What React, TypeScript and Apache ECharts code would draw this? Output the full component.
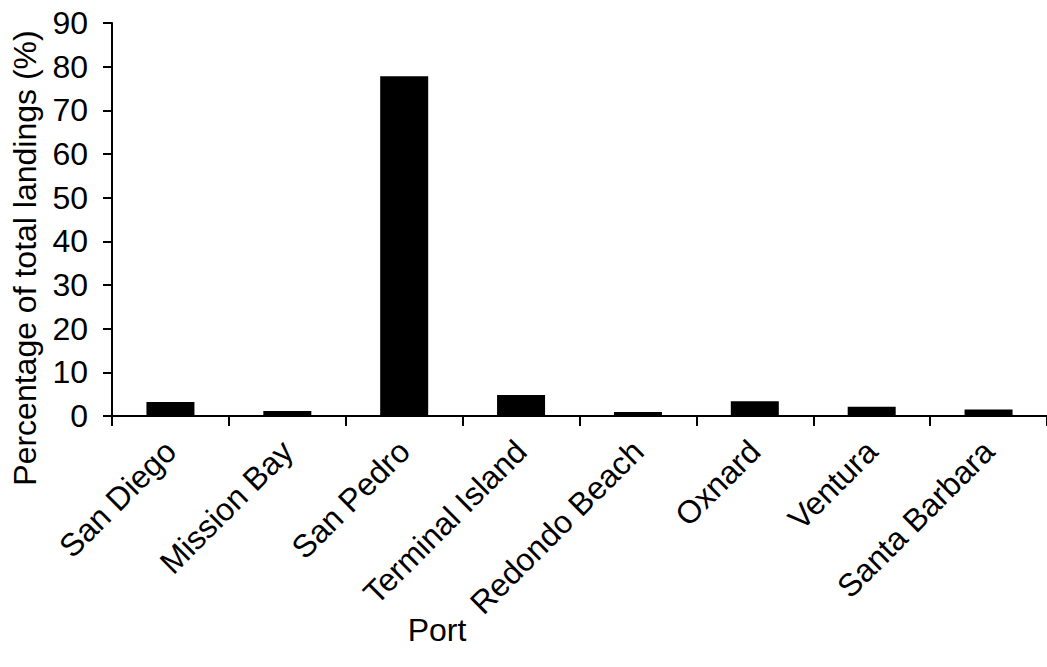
import React, { useEffect, useRef } from "react";
import * as echarts from "echarts";

const ports = [
  "San Diego",
  "Mission Bay",
  "San Pedro",
  "Terminal Island",
  "Redondo Beach",
  "Oxnard",
  "Ventura",
  "Santa Barbara",
];
const percentages = [3.2, 1.15, 77.8, 4.8, 0.9, 3.4, 2.1, 1.5];
const yTitle = "Percentage of total landings (%)";
const xTitle = "Port";

const FONT = "'Liberation Sans', Arial, sans-serif";

export default function App() {
  const ref = useRef<HTMLDivElement>(null);
  useEffect(() => {
    if (!ref.current) return;
    const chart = echarts.init(ref.current, undefined, { renderer: "svg" });
    chart.setOption({
      animation: false,
      backgroundColor: "#ffffff",
      textStyle: { fontFamily: FONT },
      grid: { left: 112, top: 23, width: 942, height: 393, containLabel: false },
      xAxis: {
        type: "category",
        data: ports,
        boundaryGap: true,
        axisLine: { show: true, lineStyle: { color: "#000", width: 2 } },
        axisTick: { show: true, length: 10, lineStyle: { color: "#000", width: 2 }, alignWithLabel: false },
        axisLabel: {
          rotate: 45,
          interval: 0,
          margin: 30,
          color: "#000",
          fontSize: 32,
          fontFamily: FONT,
        },
        splitLine: { show: false },
      },
      yAxis: {
        type: "value",
        min: 0,
        max: 90,
        interval: 10,
        axisLine: { show: true, lineStyle: { color: "#000", width: 2 } },
        axisTick: { show: true, length: 9, inside: false, lineStyle: { color: "#000", width: 2 } },
        axisLabel: { color: "#000", fontSize: 32, margin: 24, fontFamily: FONT },
        splitLine: { show: false },
      },
      series: [
        {
          type: "bar",
          data: percentages,
          barWidth: 48,
          itemStyle: { color: "#000" },
        },
      ],
      graphic: [
        {
          type: "text",
          x: 25,
          y: 258,
          rotation: Math.PI / 2,
          style: {
            text: yTitle,
            fontSize: 32,
            fontFamily: FONT,
            fill: "#000",
            align: "center",
            verticalAlign: "middle",
          },
        },
        {
          type: "text",
          x: 437,
          y: 630,
          style: {
            text: xTitle,
            fontSize: 32,
            fontFamily: FONT,
            fill: "#000",
            align: "center",
            verticalAlign: "middle",
          },
        },
      ],
    });
    return () => chart.dispose();
  }, []);
  return (
    <div
      ref={ref}
      style={{ position: "absolute", left: 0, top: 0, width: 1047, height: 667 }}
    />
  );
}
